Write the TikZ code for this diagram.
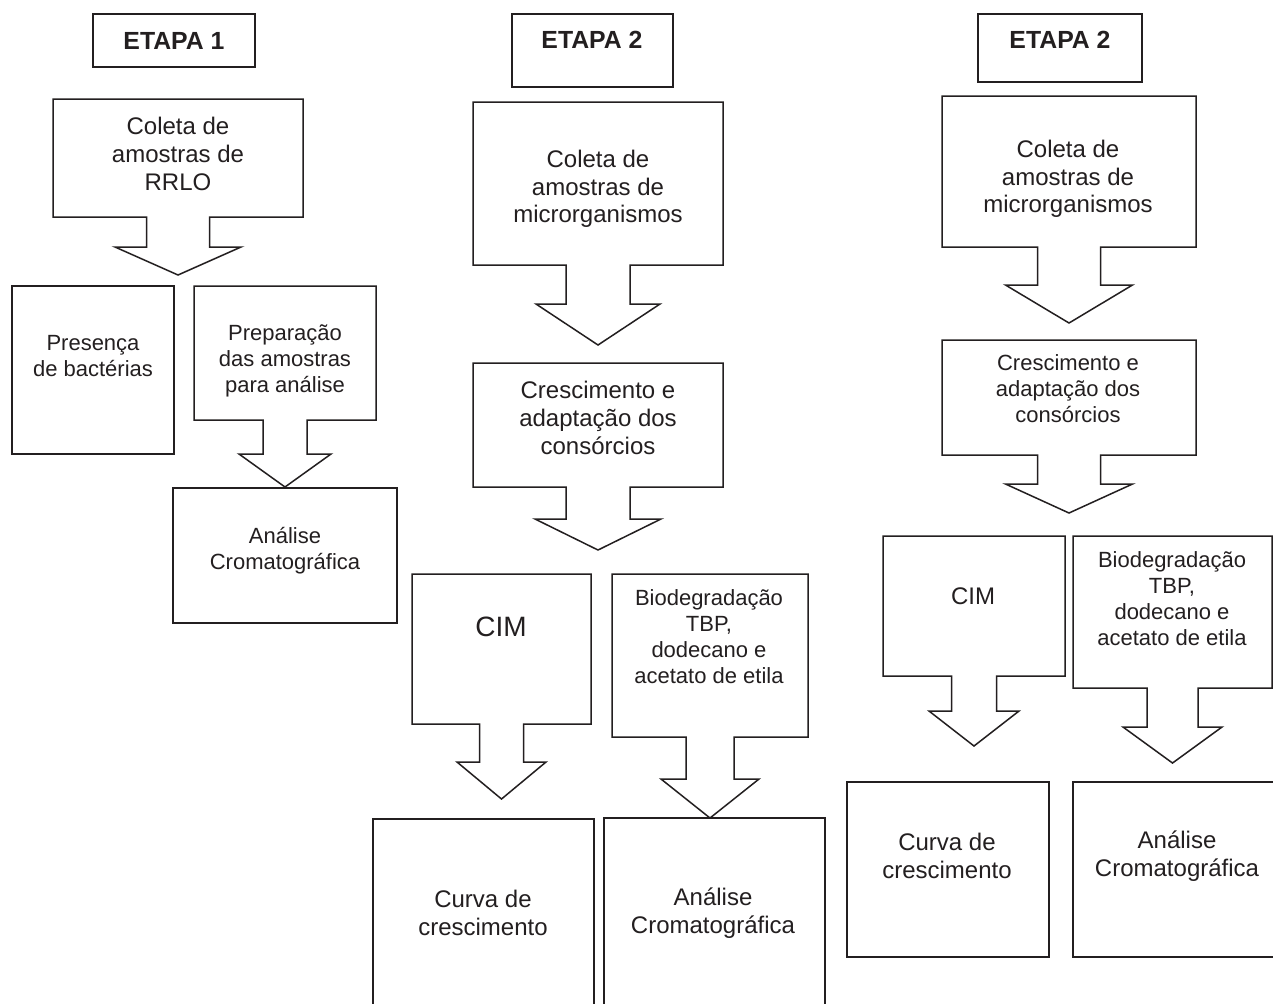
\documentclass[tikz,border=0pt]{standalone}
\usepackage{fontspec}
\setmainfont{Liberation Sans}
\definecolor{ink}{HTML}{231F20}
\tikzset{
  outline/.style={draw=ink, line width=0.75pt, line join=miter},
  big/.style={align=center, text=ink, font=\fontsize{12}{13.8}\selectfont},
  small/.style={align=center, text=ink, font=\fontsize{11}{13}\selectfont},
  title/.style={align=center, text=ink, font=\fontsize{12.4}{14}\selectfont\bfseries}
}
% box with a down arrow: centre x, top, bottom, half width, shaft, shaft end, head, tip
\newcommand{\downcallout}[8]{%
  \draw[outline] ({#1-#4},#2) -- ({#1+#4},#2) -- ({#1+#4},#3) -- ({#1+#5},#3)
    -- ({#1+#5},#6) -- ({#1+#7},#6) -- (#1,#8) -- ({#1-#7},#6) -- ({#1-#5},#6)
    -- ({#1-#5},#3) -- ({#1-#4},#3) -- cycle;}
\begin{document}
\begin{tikzpicture}[x=0.5pt,y=-0.5pt]
        \path[use as bounding box, fill=white] (0,0) rectangle (1273,1003);
        \clip (0,0) rectangle (1273,1003);

        \draw[outline] (93,14) rectangle (255,67);
        \node[title] (etapaA) at (174,41) {ETAPA 1};
        \downcallout{178}{99}{217}{125}{31.5}{247}{63}{275}
        \node[big] (coletaA) at (178,154) {Coleta de\\amostras de\\RRLO};
        \draw[outline] (12,286) rectangle (174,454);
        \node[small] (presenca) at (93,356) {Presença\\de bactérias};
        \downcallout{285}{286}{420}{91}{22}{454}{46}{487}
        \node[small] (preparo) at (285,361) {Preparação\\das amostras\\para análise};
        \draw[outline] (173,488) rectangle (397,623);
        \node[small] (analiseA) at (285,551) {Análise\\Cromatográfica};

        \draw[outline] (512,14) rectangle (673,87);
        \node[title] (etapaB) at (592,40) {ETAPA 2};
        \downcallout{598}{102}{265}{125}{32}{304}{62}{345}
        \node[big] (coletaB) at (598,189) {Coleta de\\amostras de\\microrganismos};
        \downcallout{598}{363}{487}{125}{32}{519}{63}{550}
        \node[big] (crescB) at (598,418) {Crescimento e\\adaptação dos\\consórcios};
        \downcallout{501.5}{574}{724}{89.5}{22}{762}{44.5}{799}
        \node[big, font=\fontsize{14}{16}\selectfont] (cimB) at (501,627) {CIM};
        \downcallout{710}{574}{737}{98}{24}{779}{49}{818}
        \node[small] (biodegB) at (709,637) {Biodegradação\\TBP,\\dodecano e\\acetato de etila};
        \draw[outline] (373,819) rectangle (594,1020);
        \node[big] (curvaB) at (483,913) {Curva de\\crescimento};
        \draw[outline] (604,818) rectangle (825,1020);
        \node[big] (analiseB) at (713,913) {Análise\\Cromatográfica};

        \draw[outline] (978,14) rectangle (1142,82);
        \node[title] (etapaC) at (1060,40) {ETAPA 2};
        \downcallout{1069}{96}{247}{127}{31.5}{285}{63.5}{323}
        \node[big] (coletaC) at (1068,179) {Coleta de\\amostras de\\microrganismos};
        \downcallout{1069}{340}{455}{127}{31.5}{484}{63.5}{513}
        \node[small] (crescC) at (1068,389) {Crescimento e\\adaptação dos\\consórcios};
        \downcallout{974}{536}{676}{91}{22.5}{711}{45}{746}
        \node[big] (cimC) at (973,596) {CIM};
        \downcallout{1172.5}{536}{688}{99.5}{25.5}{727}{49.5}{763}
        \node[small] (biodegC) at (1172,599) {Biodegradação\\TBP,\\dodecano e\\acetato de etila};
        \draw[outline] (847,782) rectangle (1049,957);
        \node[big] (curvaC) at (947,856) {Curva de\\crescimento};
        \draw[outline] (1073,782) rectangle (1290,957);
        \node[big] (analiseC) at (1177,856) {Análise\\Cromatográfica};
\end{tikzpicture}
\end{document}
